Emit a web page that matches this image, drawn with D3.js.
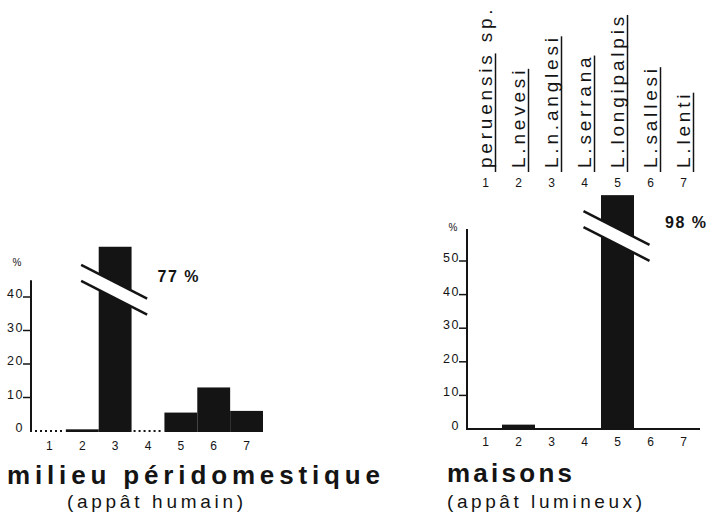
<!DOCTYPE html>
<html><head><meta charset="utf-8">
<script src="https://cdn.jsdelivr.net/npm/d3@7"></script>
<style>body{margin:0;background:#fff} svg{display:block}</style>
</head><body>
<svg id="c" width="707" height="520"></svg>
<script>
// ---- data ----
const categories = [1, 2, 3, 4, 5, 6, 7];
const speciesNames = ["peruensis sp.", "L.nevesi", "L.n.anglesi", "L.serrana", "L.longipalpis", "L.sallesi", "L.lenti"];
const peridomValues = [0, 0.5, 77, 0, 5.5, 13, 6];
const maisonsValues = [0, 1.3, 0, 0, 98, 0, 0];
const peridomTicks = [0, 10, 20, 30, 40];
const maisonsTicks = [0, 10, 20, 30, 40, 50];
const titles = ["milieu péridomestique", "maisons"];
const subtitles = ["(appât humain)", "(appât lumineux)"];

const svg = d3.select("#c");
const FONT = "'Liberation Sans', Arial, Helvetica, sans-serif";
const INK = "#141414";

function drawChart(cfg) {
  const g = svg.append("g");
  const x = d3.scaleBand().domain(categories).range(cfg.xRange).paddingInner(0).paddingOuter(0);
  const y = d3.scaleLinear().domain(cfg.yDomain).range(cfg.yRange);
  const axisX = cfg.xRange[0] - 2;

  g.append("line").attr("x1", axisX).attr("x2", axisX)
    .attr("y1", y(cfg.axisTop)).attr("y2", y(0) + 1)
    .attr("stroke", INK).attr("stroke-width", 2);

  const tk = g.selectAll("g.tick").data(cfg.ticks).join("g").attr("class", "tick");
  tk.filter(d => d !== 0).append("line")
    .attr("x1", axisX - 8).attr("x2", axisX).attr("y1", d => y(d)).attr("y2", d => y(d))
    .attr("stroke", INK).attr("stroke-width", 1.5);
  tk.append("text")
    .attr("x", axisX - 7).attr("y", d => y(d) + 1)
    .attr("text-anchor", "end")
    .attr("font-family", FONT).attr("font-size", 12.5).attr("letter-spacing", 1.5)
    .attr("fill", INK).text(d => d);

  g.append("text").attr("x", cfg.pctX).attr("y", cfg.pctY)
    .attr("text-anchor", "middle").attr("font-family", FONT).attr("font-size", 10)
    .attr("fill", INK).text("%");

  if (cfg.baseline) {
    g.append("line").attr("x1", axisX).attr("x2", cfg.xRange[1])
      .attr("y1", y(0)).attr("y2", y(0)).attr("stroke", INK).attr("stroke-width", 2);
  }

  const data = categories.map((c, i) => ({ c, v: cfg.values[i] }));

  g.selectAll("rect.bar").data(data.filter(d => d.v > 0)).join("rect")
    .attr("class", "bar")
    .attr("x", d => x(d.c)).attr("width", x.bandwidth())
    .attr("y", d => y(Math.min(d.v, cfg.cap)))
    .attr("height", d => y(0) - y(Math.min(d.v, cfg.cap)) + 1)
    .attr("fill", INK);

  if (cfg.dotted) {
    g.selectAll("line.zero").data(data.filter(d => d.v === 0)).join("line")
      .attr("class", "zero")
      .attr("x1", d => x(d.c) + 2).attr("x2", d => x(d.c) + x.bandwidth() - 2)
      .attr("y1", y(0)).attr("y2", y(0))
      .attr("stroke", INK).attr("stroke-width", 2).attr("stroke-dasharray", "2,3");
  }

  const broken = data.filter(d => d.v > cfg.cap);
  broken.forEach(d => {
    const cx = x(d.c) + x.bandwidth() / 2;
    const cy = y(cfg.breakAt);
    const s = 0.51, l = -34, r = 32, h = 8;
    const pts = [[cx + l, cy - h + s * l], [cx + r, cy - h + s * r], [cx + r, cy + h + s * r], [cx + l, cy + h + s * l]];
    g.append("polygon").attr("points", pts.map(p => p.join(",")).join(" ")).attr("fill", "#fff");
    g.append("line").attr("x1", pts[0][0]).attr("y1", pts[0][1]).attr("x2", pts[1][0]).attr("y2", pts[1][1])
      .attr("stroke", INK).attr("stroke-width", 2.5);
    g.append("line").attr("x1", pts[3][0]).attr("y1", pts[3][1]).attr("x2", pts[2][0]).attr("y2", pts[2][1])
      .attr("stroke", INK).attr("stroke-width", 2.5);
    g.append("text").attr("x", x(d.c) + x.bandwidth() + cfg.valDx).attr("y", cfg.valY)
      .attr("font-family", FONT).attr("font-size", 16).attr("font-weight", "bold")
      .attr("letter-spacing", 1.5).attr("fill", INK).text(d.v + " %");
  });

  g.selectAll("text.xl").data(categories).join("text").attr("class", "xl")
    .attr("x", d => x(d) + x.bandwidth() / 2).attr("y", cfg.xLabelY)
    .attr("text-anchor", "middle").attr("font-family", FONT).attr("font-size", 12)
    .attr("fill", INK).text(d => d);

  if (cfg.species) {
    categories.forEach((c, i) => {
      const cx = x(c) + x.bandwidth() / 2;
      const sg = g.append("g").attr("transform", `translate(${cx + 6},168) rotate(-90)`);
      const t = sg.append("text").attr("x", 0).attr("y", 0)
        .attr("font-family", FONT).attr("font-size", 19).attr("letter-spacing", 3.8)
        .attr("fill", INK).text(speciesNames[i]);
      const name = speciesNames[i];
      const sp = name.indexOf(" ");
      let len;
      if (sp > 0) {
        const tmp = sg.append("text").attr("font-family", FONT).attr("font-size", 19)
          .attr("letter-spacing", 3.8).text(name.slice(0, sp));
        len = tmp.node().getComputedTextLength();
        tmp.remove();
      } else {
        len = t.node().getComputedTextLength();
      }
      sg.append("line").attr("x1", -4).attr("x2", len - 2).attr("y1", 4).attr("y2", 4)
        .attr("stroke", INK).attr("stroke-width", 1.5);
      g.append("text").attr("x", cx).attr("y", 187).attr("text-anchor", "middle")
        .attr("font-family", FONT).attr("font-size", 12).attr("fill", INK).text(c);
    });
  }

  g.append("text").attr("x", cfg.titleX).attr("y", cfg.titleY)
    .attr("font-family", FONT).attr("font-size", 26).attr("font-weight", "bold")
    .attr("textLength", cfg.titleLen).attr("lengthAdjust", "spacing")
    .attr("fill", INK).text(cfg.title);
  g.append("text").attr("x", cfg.subX).attr("y", cfg.subY)
    .attr("font-family", FONT).attr("font-size", 19)
    .attr("textLength", cfg.subLen).attr("lengthAdjust", "spacing")
    .attr("fill", INK).text(cfg.subtitle);
}

drawChart({
  values: peridomValues, ticks: peridomTicks,
  xRange: [33, 263], yDomain: [0, 40], yRange: [431, 297], axisTop: 45,
  cap: 55, breakAt: 42, dotted: true, baseline: false,
  pctX: 17, pctY: 266, valDx: 26, valY: 282, xLabelY: 450,
  title: titles[0], titleX: 7, titleY: 484, titleLen: 373,
  subtitle: subtitles[0], subX: 67, subY: 508, subLen: 176,
  species: false
});

drawChart({
  values: maisonsValues, ticks: maisonsTicks,
  xRange: [469, 700], yDomain: [0, 50], yRange: [429, 261], axisTop: 59.5,
  cap: 69.6, breakAt: 57.3, dotted: false, baseline: true,
  pctX: 453, pctY: 231, valDx: 31, valY: 228, xLabelY: 446,
  title: titles[1], titleX: 447, titleY: 482, titleLen: 125,
  subtitle: subtitles[1], subX: 447, subY: 508, subLen: 195,
  species: true
});
</script>
</body></html>
